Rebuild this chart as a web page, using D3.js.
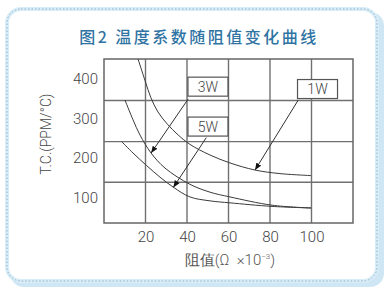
<!DOCTYPE html>
<html>
<head>
<meta charset="utf-8">
<script src="https://cdn.jsdelivr.net/npm/d3@7"></script>
<style>
  body { margin: 0; background: #fff; }
  svg { display: block; }
</style>
</head>
<body>
<svg></svg>
<script>
var width = 384,
    height = 287

// data (x: resistance x10^-3 ohm, y: T.C. ppm/C)
var xTicks = [20, 40, 60, 80, 100]
var yTicks = [100, 200, 300, 400]
var gridY = [138, 241, 345]

var series = ["1W", "3W", "5W"]
var curve1W = [[16.4, 450], [19.8, 395], [22.6, 352], [26.0, 316], [30.4, 286], [35.7, 258], [41.4, 234], [51.1, 207], [60.7, 187], [72.8, 169], [84.8, 160], [99.8, 155]]
var curve3W = [[10.1, 346], [14.0, 296], [17.3, 258], [22.7, 212], [29.4, 174], [41.4, 133], [51.1, 113], [60.7, 101], [81.0, 80], [99.8, 73]]
var curve5W = [[8.5, 241], [14.0, 212], [20.6, 180], [27.0, 151], [33.3, 126], [41.4, 101], [51.1, 91], [60.7, 86], [81.0, 77], [99.8, 73]]

// label boxes (centre) and arrow from / to, in data units
var boxAt = [[102.9, 374], [50.1, 380], [50.1, 279]]
var arrowFrom = [[93.6, 346], [40.6, 349], [49.3, 251]]
var arrowTo = [[72.8, 169], [22.7, 212], [33.4, 125]]

var svg = d3.select("svg").attr("width", width).attr("height", height)

// card
svg.append("rect").attr("x", 10).attr("y", 12).attr("width", 374).attr("height", 275)
  .attr("rx", 14).attr("fill", "#cfe6f4")
svg.append("rect").attr("x", 7).attr("y", 9).attr("width", 370).attr("height", 272)
  .attr("rx", 14).attr("fill", "#fff").attr("stroke", "#d9edf8").attr("stroke-width", 4)
svg.append("rect").attr("x", 7).attr("y", 9).attr("width", 370).attr("height", 272)
  .attr("rx", 14).attr("fill", "none").attr("stroke", "#8fb0c4")
  .attr("stroke-width", 1).attr("stroke-dasharray", "1.5,2")

svg.append("text")
  .attr("x", 199).attr("y", 43)
  .attr("text-anchor", "middle")
  .attr("font-family", "Noto Sans CJK SC")
  .attr("font-size", 16).attr("font-weight", 500)
  .attr("letter-spacing", 2.5)
  .attr("fill", "#2f73a3")
  .text("图2 温度系数随阻值变化曲线")

var x = d3.scaleLinear().domain([0, 120]).range([104, 353])
var y = d3.scaleLinear().domain([35, 450]).range([223, 59])

var font = "Roboto"

// grid + frame
var g = svg.append("g")
g.selectAll(".gx").data(xTicks).enter().append("line")
  .attr("x1", function(d) { return x(d) }).attr("x2", function(d) { return x(d) })
  .attr("y1", y(450)).attr("y2", y(35))
  .attr("stroke", "#707070").attr("stroke-width", 1.4)
g.selectAll(".gy").data(gridY).enter().append("line")
  .attr("x1", x(0)).attr("x2", x(120))
  .attr("y1", function(d) { return y(d) }).attr("y2", function(d) { return y(d) })
  .attr("stroke", "#707070").attr("stroke-width", 1.4)
g.append("rect")
  .attr("x", x(0)).attr("y", y(450))
  .attr("width", x(120) - x(0)).attr("height", y(35) - y(450))
  .attr("fill", "none").attr("stroke", "#666").attr("stroke-width", 1.5)

// axes
var xAxis = svg.append("g").attr("transform", "translate(0," + y(35) + ")")
  .call(d3.axisBottom(x).tickValues(xTicks).tickSize(0).tickPadding(8))
var yAxis = svg.append("g").attr("transform", "translate(" + x(0) + ",0)")
  .call(d3.axisLeft(y).tickValues(yTicks).tickSize(0).tickPadding(6))
svg.selectAll(".domain").remove()
svg.selectAll(".tick text")
  .attr("font-family", font).attr("font-size", 15).attr("font-weight", 300)
  .attr("fill", "#444")

svg.append("text")
  .attr("transform", "translate(51,134) rotate(-90)")
  .attr("text-anchor", "middle")
  .attr("font-family", font).attr("font-size", 14).attr("font-weight", 300)
  .attr("fill", "#444")
  .text("T.C.(PPM/°C)")

var xt = svg.append("text")
  .attr("x", 230).attr("y", 265)
  .attr("text-anchor", "middle")
  .attr("font-family", font).attr("font-size", 15).attr("font-weight", 300)
  .attr("fill", "#555")
xt.append("tspan").text("阻值(Ω\u00a0\u00a0×10")
xt.append("tspan").attr("font-size", 8).attr("dy", -6).text("−3")
xt.append("tspan").attr("dy", 6).text(")")

// curves
var line = d3.line()
  .x(function(d) { return x(d[0]) })
  .y(function(d) { return y(d[1]) })
  .curve(d3.curveCatmullRom.alpha(0.5))

svg.selectAll(".curve").data([curve1W, curve3W, curve5W]).enter().append("path")
  .attr("d", line)
  .attr("fill", "none").attr("stroke", "#3a3a3a").attr("stroke-width", 1)

// arrows
svg.append("defs").append("marker")
  .attr("id", "head").attr("viewBox", "0 0 10 10")
  .attr("refX", 10).attr("refY", 5)
  .attr("markerWidth", 7).attr("markerHeight", 7)
  .attr("markerUnits", "userSpaceOnUse")
  .attr("orient", "auto")
  .append("path").attr("d", "M0,1L10,5L0,9Z").attr("fill", "#111")

svg.selectAll(".arrow").data(series).enter().append("line")
  .attr("x1", function(d, i) { return x(arrowFrom[i][0]) })
  .attr("y1", function(d, i) { return y(arrowFrom[i][1]) })
  .attr("x2", function(d, i) { return x(arrowTo[i][0]) })
  .attr("y2", function(d, i) { return y(arrowTo[i][1]) })
  .attr("stroke", "#333").attr("stroke-width", 1)
  .attr("marker-end", "url(#head)")

var box = svg.selectAll(".box").data(series).enter().append("g")
  .attr("transform", function(d, i) { return "translate(" + x(boxAt[i][0]) + "," + y(boxAt[i][1]) + ")" })
box.append("rect")
  .attr("x", -20).attr("y", -9.5).attr("width", 40).attr("height", 19)
  .attr("fill", "#fff").attr("stroke", "#555").attr("stroke-width", 1.2)
box.append("text")
  .attr("text-anchor", "middle").attr("dy", "0.36em")
  .attr("font-family", font).attr("font-size", 14).attr("font-weight", 300)
  .attr("fill", "#444")
  .text(function(d) { return d })
</script>
</body>
</html>
